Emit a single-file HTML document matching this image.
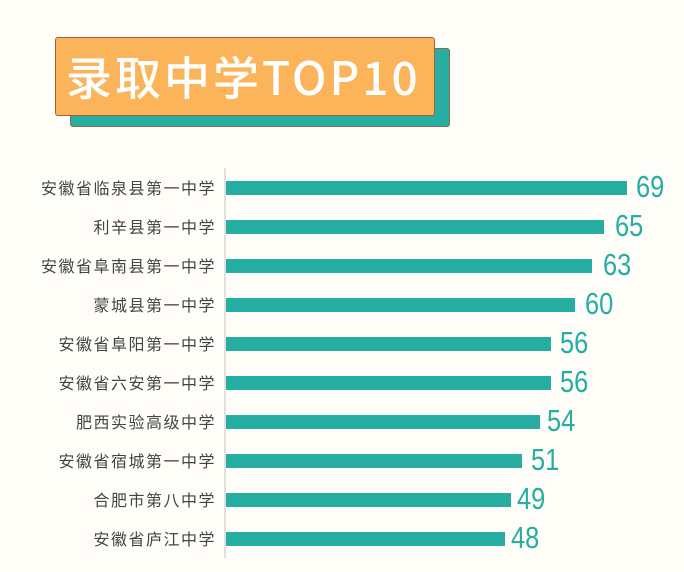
<!DOCTYPE html>
<html><head><meta charset="utf-8"><style>
body{margin:0;width:684px;height:572px;background:#fffdf8;position:relative;overflow:hidden;font-family:"Liberation Sans","Noto Sans CJK SC",sans-serif}
.sh{position:absolute;left:70px;top:48px;width:380px;height:79px;background:#26aea3;border:1px solid #8a6a4a;border-radius:3px;box-sizing:border-box}
.ti{position:absolute;left:55px;top:37px;width:380px;height:79px;background:#fbb45a;border:1.5px solid #a0603a;border-radius:3px;box-sizing:border-box}
.tt{position:absolute;left:66px;top:48px;color:#fff;font-size:46px;font-weight:500;line-height:56px;white-space:nowrap;font-family:"Noto Sans CJK SC",sans-serif;letter-spacing:3px}
.ax{position:absolute;left:224px;top:168px;width:2px;height:390px;background:#e3e0dc}
.r{position:absolute;left:0;height:39px;width:684px}
.l{position:absolute;right:468px;top:7px;font-size:16px;letter-spacing:1.5px;color:#444;white-space:nowrap}
.b{position:absolute;left:226px;top:13px;height:14px;background:#26aea3}
.v{position:absolute;top:2px;font-size:31px;line-height:34px;color:#26aea3;transform:scaleX(0.82);transform-origin:left}
</style></head><body>
<div class="sh"></div><div class="ti"></div>
<div class="tt">录取中学TOP10</div>
<div class="ax"></div>
<div class="r" style="top:168px"><div class="l">安徽省临泉县第一中学</div><div class="b" style="width:401px"></div><div class="v" style="left:636px">69</div></div>
<div class="r" style="top:207px"><div class="l">利辛县第一中学</div><div class="b" style="width:378px"></div><div class="v" style="left:615px">65</div></div>
<div class="r" style="top:246px"><div class="l">安徽省阜南县第一中学</div><div class="b" style="width:366px"></div><div class="v" style="left:603px">63</div></div>
<div class="r" style="top:285px"><div class="l">蒙城县第一中学</div><div class="b" style="width:349px"></div><div class="v" style="left:585px">60</div></div>
<div class="r" style="top:324px"><div class="l">安徽省阜阳第一中学</div><div class="b" style="width:325px"></div><div class="v" style="left:560px">56</div></div>
<div class="r" style="top:363px"><div class="l">安徽省六安第一中学</div><div class="b" style="width:325px"></div><div class="v" style="left:560px">56</div></div>
<div class="r" style="top:402px"><div class="l">肥西实验高级中学</div><div class="b" style="width:314px"></div><div class="v" style="left:547px">54</div></div>
<div class="r" style="top:441px"><div class="l">安徽省宿城第一中学</div><div class="b" style="width:296px"></div><div class="v" style="left:531px">51</div></div>
<div class="r" style="top:480px"><div class="l">合肥市第八中学</div><div class="b" style="width:285px"></div><div class="v" style="left:517px">49</div></div>
<div class="r" style="top:519px"><div class="l">安徽省庐江中学</div><div class="b" style="width:279px"></div><div class="v" style="left:511px">48</div></div>
</body></html>
